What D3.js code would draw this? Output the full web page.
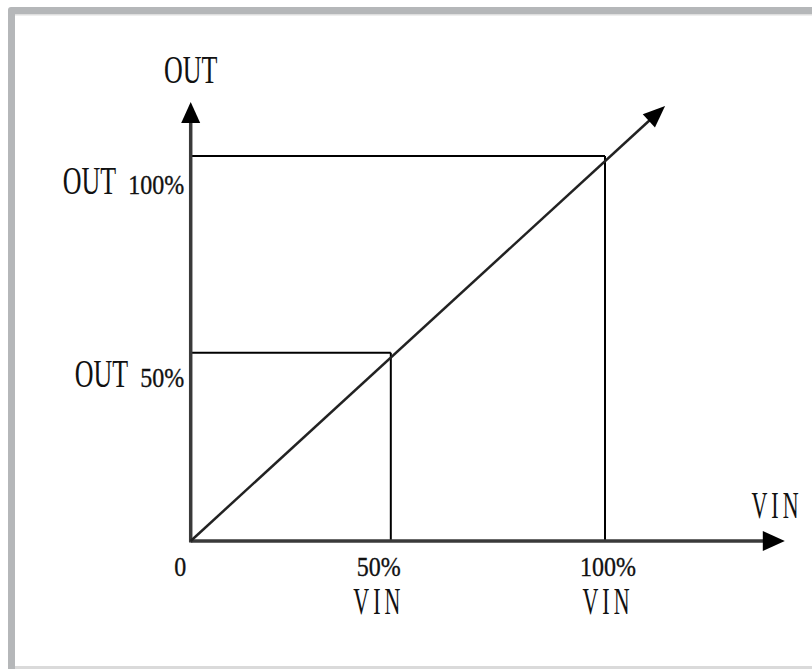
<!DOCTYPE html>
<html>
<head>
<meta charset="utf-8">
<script src="https://cdn.jsdelivr.net/npm/d3@7"></script>
<style>
    body { margin: 0; background: #fff; }
</style>
</head>
<body>
<script>
// values (percent of full scale)
var vinTicks = [0, 48.3, 100];
var vinLabels = ["0", "50%", "100%"];
var outTicks = [48.9, 100];
var outLabels = ["50%", "100%"];
// points where the helper lines meet the transfer line
var guideVin = [48.3, 100];
var guideOut = [48.9, 100];
// transfer line start and arrow end
var lineVin = [0, 114.5];
var lineOut = [0, 113];
// axis ends (arrow tips)
var xAxisMax = 143.4;
var yAxisMax = 114;

window.onload = function() {
    drawChart();
};

function drawChart() {
    var width = 812;
    var height = 669;

    var svg = d3.select("body")
        .append("svg")
        .attr("width", width)
        .attr("height", height);

    // grey frame round the picture
    svg.append("rect")
        .attr("x", 8).attr("y", 7)
        .attr("width", width).attr("height", height)
        .attr("rx", 3)
        .attr("fill", "#b5b7b9");
    svg.append("rect")
        .attr("x", 15).attr("y", 14)
        .attr("width", width).attr("height", 652)
        .attr("fill", "#fff");
    svg.append("rect")
        .attr("x", 15).attr("y", 14)
        .attr("width", width).attr("height", 1.5)
        .attr("fill", "#dedede");
    svg.append("rect")
        .attr("x", 15).attr("y", 666)
        .attr("width", width).attr("height", 3)
        .attr("fill", "#dadada");

    var x = d3.scaleLinear().domain([0, 100]).range([190.7, 605]);
    var y = d3.scaleLinear().domain([0, 100]).range([541, 156]);

    // helper lines from the axes to the transfer line
    for (var i = 0; i < guideVin.length; i++) {
        svg.append("line")
            .attr("x1", x(0)).attr("y1", y(guideOut[i]))
            .attr("x2", x(guideVin[i])).attr("y2", y(guideOut[i]))
            .attr("stroke", "#000").attr("stroke-width", 2);
        svg.append("line")
            .attr("x1", x(guideVin[i])).attr("y1", y(guideOut[i]))
            .attr("x2", x(guideVin[i])).attr("y2", y(0))
            .attr("stroke", "#000").attr("stroke-width", 2);
    }

    // axes
    svg.append("line")
        .attr("x1", x(0)).attr("y1", y(0))
        .attr("x2", x(xAxisMax) - 10).attr("y2", y(0))
        .attr("stroke", "#3a3a3a").attr("stroke-width", 3.5);
    svg.append("line")
        .attr("x1", x(0)).attr("y1", y(0) + 1.5)
        .attr("x2", x(0)).attr("y2", y(yAxisMax) + 10)
        .attr("stroke", "#3a3a3a").attr("stroke-width", 3.5);
    arrowHead(svg, x(0), y(0), x(xAxisMax), y(0), 22, 10);
    arrowHead(svg, x(0), y(0), x(0), y(yAxisMax), 21, 9.5);

    // transfer line VIN -> OUT
    var line = d3.line()
        .x(function(d) { return x(d[0]); })
        .y(function(d) { return y(d[1]); });
    var pts = [[lineVin[0], lineOut[0]], [lineVin[1] - 3, lineOut[1] - 3]];
    svg.append("path")
        .attr("d", line(pts))
        .attr("fill", "none")
        .attr("stroke", "#222").attr("stroke-width", 2.5);
    arrowHead(svg, x(lineVin[0]), y(lineOut[0]), x(lineVin[1]), y(lineOut[1]), 22, 9);

    // x tick labels
    for (var j = 0; j < vinTicks.length; j++) {
        var cx = j == 0 ? x(vinTicks[j]) - 10.5 : x(vinTicks[j]) + (j == 1 ? -12 : 3);
        numText(svg, cx, 576, vinLabels[j], "middle");
        if (j > 0) {
            vinText(svg, cx, 614);
        }
    }

    // y tick labels
    for (var k = 0; k < outTicks.length; k++) {
        var by = y(outTicks[k]) + (k == 0 ? 34.5 : 38);
        var pct = numText(svg, x(0) - 6.5, by, outLabels[k], "end");
        var bw = pct.node().getBBox().width;
        addText(svg, x(0) - 6.5 - bw - 12, by, "OUT", "Liberation Serif", 26, 1, 1.58, "end");
    }

    // axis titles
    addText(svg, x(0), 83, "OUT", "Liberation Serif", 26, 1, 1.52, "middle");
    vinText(svg, 777, 518);
}

// filled triangle at the end of a line
function arrowHead(svg, x1, y1, x2, y2, len, half) {
    var a = Math.atan2(y2 - y1, x2 - x1);
    var bx = x2 - len * Math.cos(a);
    var by = y2 - len * Math.sin(a);
    var px = -Math.sin(a) * half;
    var py = Math.cos(a) * half;
    svg.append("path")
        .attr("d", "M" + x2 + "," + y2 + "L" + (bx + px) + "," + (by + py) +
                   "L" + (bx - px) + "," + (by - py) + "Z")
        .attr("fill", "#000");
}

// percent numbers, a bit heavier like the original bitmap font
function numText(svg, x, y, str, anchor) {
    return addText(svg, x, y, str, "Liberation Serif", 24, 1, 1.14, anchor)
        .attr("stroke", "#111")
        .attr("stroke-width", 0.3);
}

// spaced narrow VIN
function vinText(svg, x, y) {
    return addText(svg, x, y, "VIN", "Liberation Serif", 22, 1, 1.68, "middle")
        .attr("letter-spacing", 4);
}

// text stretched to look like the tall narrow original font
function addText(svg, x, y, str, family, size, sx, sy, anchor) {
    return svg.append("text")
        .attr("transform", "translate(" + x + "," + y + ") scale(" + sx + "," + sy + ")")
        .attr("text-anchor", anchor)
        .attr("font-family", family)
        .attr("font-size", size)
        .attr("fill", "#111")
        .text(str);
}
</script>
</body>
</html>
